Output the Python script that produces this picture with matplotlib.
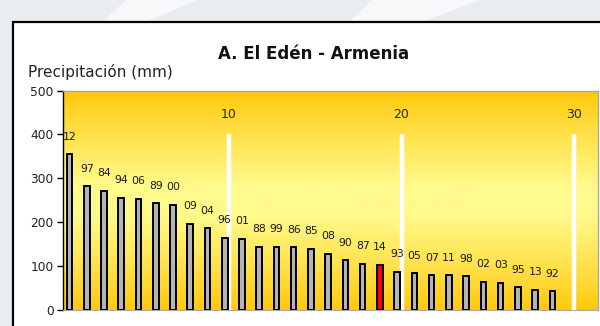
import numpy as np
import matplotlib.pyplot as plt
from matplotlib.patches import Rectangle, Polygon

plt.rcParams['font.family'] = ['DejaVu Sans']

# Annual precipitation, ranked from wettest to driest year
years = ["12", "97", "84", "94", "06", "89", "00", "09", "04", "96",
         "01", "88", "99", "86", "85", "08", "90", "87", "14", "93",
         "05", "07", "11", "98", "02", "03", "95", "13", "92"]
precip = [355, 282, 272, 256, 253, 243, 240, 196, 186, 164,
          162, 144, 144, 142, 139, 128, 113, 105, 102, 86,
          83, 79, 79, 76, 64, 61, 51, 45, 42]
highlight_year = "14"
rank_marks = [10, 20, 30]
yticks = [0, 100, 200, 300, 400, 500]

W, H = 600, 326
fig = plt.figure(figsize=(W / 100, H / 100), dpi=100)
fig.patch.set_facecolor('#EAEDF0')

# soft white swooshes in the page background
for pts in ([(0.21, 1.0), (0.33, 1.0), (0.24, 0.93), (0.17, 0.93)],
            [(0.62, 1.0), (0.80, 1.0), (0.70, 0.93), (0.58, 0.93)]):
    fig.patches.append(Polygon(pts, closed=True, transform=fig.transFigure,
                               facecolor='#F6F8FA', edgecolor='none', zorder=0))

# white chart box with black frame
box = Rectangle((13 / W, -0.05), 1.0, 1 - 22 / H + 0.05, transform=fig.transFigure,
                facecolor='white', edgecolor='black', linewidth=1.6, zorder=1)
fig.patches.append(box)

left, right = 63.3 / W, 598 / W
bottom, top = 1 - 309.6 / H, 1 - 90.7 / H
ax = fig.add_axes([left, bottom, right - left, top - bottom])
ax.set_zorder(2)

xmin, xmax = 0.39, 31.39
ax.set_xlim(xmin, xmax)
ax.set_ylim(0, 500)

# vertical gold gradient background
grad = np.linspace(0, 1, 256)
c_edge = np.array([255, 200, 10]) / 255
c_mid = np.array([255, 250, 140]) / 255
w = 1 - np.abs(grad - 0.5) * 2
w = np.clip(w * 1.15, 0, 1) ** 0.9
img = c_edge[None, :] * (1 - w[:, None]) + c_mid[None, :] * w[:, None]
img = np.repeat(img[:, None, :], 2, axis=1)
ax.imshow(img, extent=[xmin, xmax, 0, 500], aspect='auto', origin='lower', zorder=0)

# rank markers every ten years
for r in rank_marks:
    ax.plot([r, r], [0, 400], color='white', linewidth=3.2, solid_capstyle='butt', zorder=1)
    ax.text(r, 445, str(r), ha='center', va='center', fontsize=9, color='#2a2a10', zorder=3)

x = np.arange(1, len(precip) + 1) - 0.25
colors = ['#FF0000' if y == highlight_year else '#B4B4B4' for y in years]
ax.bar(x, precip, width=0.32, color=colors, edgecolor='black', linewidth=1.4, zorder=2)

for xi, v, lab in zip(x, precip, years):
    ax.annotate(lab, (xi, v), xytext=(0, 12.6), textcoords='offset points',
                ha='center', va='center', fontsize=7.8, color='#1a1a1a', zorder=3)

ax.set_xticks([])
ax.set_yticks(yticks)
ax.tick_params(axis='y', direction='out', length=4, width=1, colors='black',
               labelsize=8.8, pad=3)
for lbl in ax.get_yticklabels():
    lbl.set_color('#222222')
ax.spines['left'].set_color('black')
ax.spines['left'].set_linewidth(1.0)
for s in ('top', 'right'):
    ax.spines[s].set_color('#A8A8A8')
    ax.spines[s].set_linewidth(1.0)
ax.spines['bottom'].set_color('#A8A8A8')
ax.spines['bottom'].set_linewidth(0.8)

fig.text(314 / W, 1 - 59 / H, 'A. El Edén - Armenia', ha='center', va='baseline',
         fontsize=12, fontweight='bold', color='#111111', zorder=3)
fig.text(28 / W, 1 - 76.5 / H, 'Precipitación (mm)', ha='left', va='baseline',
         fontsize=11, color='#222222', zorder=3)

fig.savefig('out.png', dpi=100, facecolor=fig.get_facecolor())
